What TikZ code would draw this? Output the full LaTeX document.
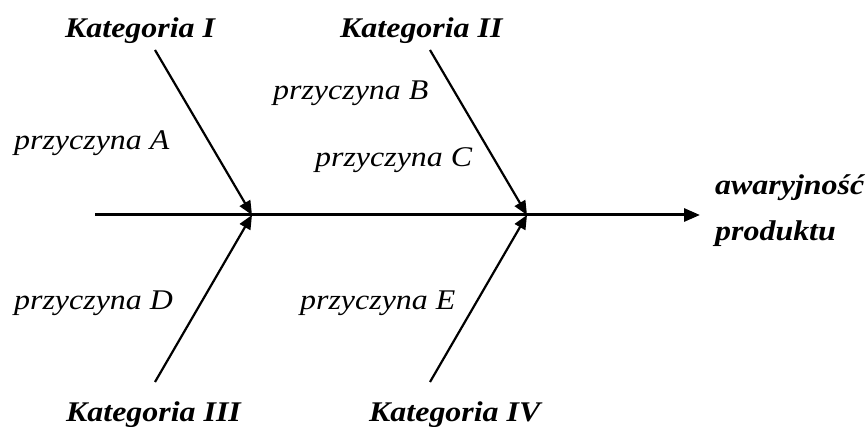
\documentclass[tikz,border=0pt]{standalone}
\usepackage{fontspec}
\setmainfont{Liberation Serif}[FakeStretch=1.12]
\usetikzlibrary{positioning,arrows.meta}

\begin{document}
\begin{tikzpicture}[x=1pt,y=-1pt,
  every node/.style = {inner sep=0pt, anchor=base west},
  kategoria/.style = {font=\fontsize{28.5}{30}\selectfont\bfseries\itshape},
  przyczyna/.style = {font=\fontsize{28.5}{30}\selectfont\itshape},
  kosc/.style = {draw, line width=2.2pt, -{Triangle[length=14pt,width=12pt]}},
  grzbiet/.style = {draw, line width=3pt, -{Triangle[length=16pt,width=13pt]}}
  ]
  \useasboundingbox (0,0) rectangle (867,427);
  % grzbiet
  \coordinate (start) at (95,215);
  \coordinate (j1) at (252,215);
  \coordinate (j2) at (527,215);
  \coordinate (glowa) at (700,215);
  % konce osci
  \coordinate (k1) at (155,50);
  \coordinate (k2) at (430,50);
  \coordinate (k3) at (155,382);
  \coordinate (k4) at (430,382);

  \node[kategoria] (katI) at (65,38) {Kategoria I};
  \node[kategoria] (katII) at (340,38) {Kategoria II};
  \node[kategoria] (katIII) at (66,421) {Kategoria III};
  \node[kategoria] (katIV) at (369,421) {Kategoria IV};

  \node[przyczyna] (przA) at (14,150) {przyczyna A};
  \node[przyczyna] (przB) at (273,100) {przyczyna B};
  \node[przyczyna] (przC) at (315,167) {przyczyna C};
  \node[przyczyna] (przD) at (14,310) {przyczyna D};
  \node[przyczyna] (przE) at (300,310) {przyczyna E};

  \node[kategoria] (awaria) at (715,195) {awaryjność};
  \node[kategoria] (produkt) at (715,241) {produktu};

  \draw[grzbiet] (start) -- (glowa);
  \draw[kosc] (k1) -- (j1);
  \draw[kosc] (k2) -- (j2);
  \draw[kosc] (k3) -- (j1);
  \draw[kosc] (k4) -- (j2);
\end{tikzpicture}
\end{document}
